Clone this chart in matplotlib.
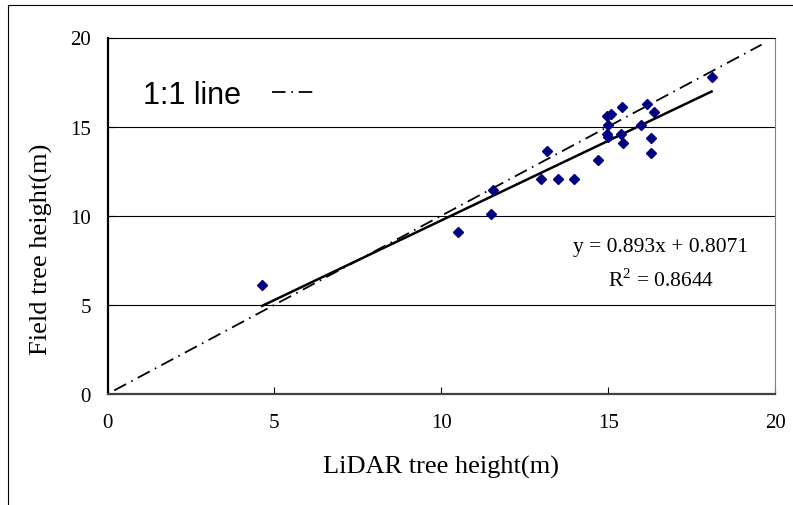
import matplotlib
matplotlib.use("Agg")
from matplotlib import pyplot as plt
from matplotlib.lines import Line2D

# LiDAR vs field tree heights (m)
lidar = [4.63, 10.49, 11.5, 11.55, 13.0, 13.18, 13.5, 13.98, 14.69, 14.98,
         15.0, 14.98, 15.09, 15.0, 15.4, 15.43, 15.46, 15.98, 16.17, 16.29,
         16.29, 16.38, 18.1]
field = [6.1, 9.08, 10.1, 11.44, 12.08, 13.63, 12.08, 12.08, 13.11, 14.6,
         14.42, 15.6, 15.69, 15.1, 14.57, 16.12, 14.06, 15.1, 16.29, 14.36,
         13.54, 15.84, 17.81]
slope, intercept = 0.893, 0.8071
one_to_one = [0.2, 19.6]
ticks = [0, 5, 10, 15, 20]

W, H = 793, 506
fig = plt.figure(figsize=(W / 100, H / 100), dpi=100)
ax = fig.add_axes([107.5 / W, 1 - 395 / H, 667.5 / W, 356.5 / H])

serif = "Liberation Serif"
sans = "Liberation Sans"

# outer frame (left and top edges visible)
fig.add_artist(Line2D([8 / W, 8 / W], [0, 1 - 6 / H], transform=fig.transFigure,
                      color="black", lw=0.8))
fig.add_artist(Line2D([8 / W, 1], [1 - 6 / H, 1 - 6 / H], transform=fig.transFigure,
                      color="black", lw=0.8))

for y in [5, 10, 15]:
    ax.axhline(y, color="black", lw=0.8, zorder=1)

ax.plot(one_to_one, one_to_one, color="black", lw=1.3,
        linestyle=(0, (7.5, 3.2, 0.9, 3.2)), label="1:1 line", zorder=3)

fit_x = [min(lidar), max(lidar)]
fit_y = [slope * v + intercept for v in fit_x]
ax.plot(fit_x, fit_y, color="black", lw=1.8, zorder=3)

ax.plot(lidar, field, linestyle="none", marker="D", markersize=5.2,
        color="#000080", zorder=4)

ax.set_xlim(0, 20)
ax.set_ylim(0, 20)
ax.set_xticks(ticks)
ax.set_yticks(ticks)
ax.tick_params(axis="both", direction="in", length=5, width=0.8,
               labelsize=15, colors="black")
ax.tick_params(axis="x", pad=14)
ax.tick_params(axis="y", pad=12)
for lab in ax.get_xticklabels() + ax.get_yticklabels():
    lab.set_fontfamily(serif)

ax.spines["left"].set_linewidth(1.6)
ax.spines["left"].set_color("black")
ax.spines["bottom"].set_linewidth(1.6)
ax.spines["bottom"].set_color("#404040")
ax.spines["top"].set_linewidth(0.8)
ax.spines["top"].set_color("black")
ax.spines["right"].set_linewidth(0.8)
ax.spines["right"].set_color("#808080")

ax.set_xlabel("LiDAR tree height(m)", fontsize=19, family=serif, labelpad=16)
fig.text(41.7 / W, 1 - 249 / H, "Field tree height(m)", rotation=90,
         fontsize=19, family=serif, ha="center", va="center")

ax.text(16.58, 8.3, "y = 0.893x + 0.8071", fontsize=15.5, family=serif,
        ha="center", va="center")
ax.text(16.6, 6.45, r"R$^\mathregular{2}$ = 0.8644", fontsize=15.5, family=serif,
        ha="center", va="center")

leg = ax.legend(loc="center left", bbox_to_anchor=(0.035, 0.84), frameon=False,
                markerfirst=False, handlelength=1.45, handletextpad=1.0,
                prop={"family": sans, "size": 22}, borderaxespad=0)

fig.savefig("out.png", dpi=100, facecolor="white")
